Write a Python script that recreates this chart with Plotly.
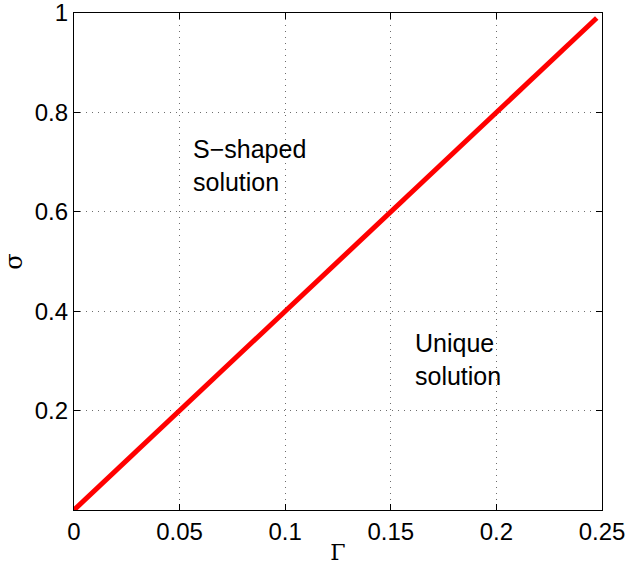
import plotly.graph_objects as go

gamma = [0.0, 0.2475]
sigma = [0.0, 0.99]
x_ticks = [0, 0.05, 0.1, 0.15, 0.2, 0.25]
x_tick_labels = ["0", "0.05", "0.1", "0.15", "0.2", "0.25"]
y_ticks = [0.2, 0.4, 0.6, 0.8, 1.0]
y_tick_labels = ["0.2", "0.4", "0.6", "0.8", "1"]
region_labels = ["S\u2212shaped<br>solution", "Unique<br>solution"]
region_x = [0.0555, 0.1605]
region_y = [0.693, 0.303]

font = "Liberation Sans, Arial, sans-serif"

fig = go.Figure()
fig.add_trace(go.Scatter(x=gamma, y=sigma, mode="lines",
                         line=dict(color="#ff0000", width=5), showlegend=False))

for t, x, y in zip(region_labels, region_x, region_y):
    fig.add_annotation(x=x, y=y, text=t, showarrow=False, xanchor="left",
                       yanchor="middle", align="left",
                       font=dict(family=font, size=25, color="black"))

axis_common = dict(showline=True, linecolor="black", linewidth=1.2, mirror="ticks",
                   ticks="inside", ticklen=6, tickcolor="black", automargin=False,
                   ticklabeloverflow="allow",
                   showgrid=True, gridcolor="#6e6e6e", griddash="1px,5px", gridwidth=1,
                   zeroline=False, tickfont=dict(family=font, size=24, color="black"))

fig.update_xaxes(range=[0, 0.25], tickvals=x_ticks, ticktext=x_tick_labels,
                 title=dict(text="\u0393", font=dict(family="DejaVu Serif, serif", size=22, color="black"), standoff=0),
                 **axis_common)
fig.update_yaxes(range=[0, 1], tickvals=y_ticks, ticktext=y_tick_labels,
                 title=dict(text="\u03c3", font=dict(family="DejaVu Serif, serif", size=24, color="black"), standoff=6),
                 **axis_common)

fig.update_layout(width=626, height=567, margin=dict(l=74, r=24, t=13, b=57),
                  plot_bgcolor="white", paper_bgcolor="white")

fig.write_html("out.html", config={"displayModeBar": False},
               post_script="document.body.style.margin='0';document.body.style.padding='0';")
